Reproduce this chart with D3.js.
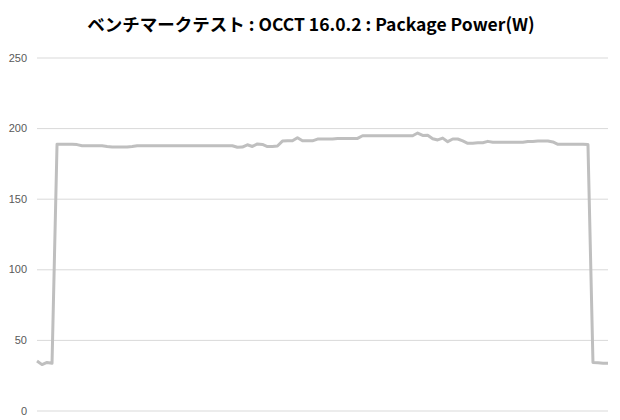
<!DOCTYPE html>
<html>
<head>
<meta charset="utf-8">
<script src="https://cdn.jsdelivr.net/npm/d3@7"></script>
<style>
  body { margin: 0; background: #fff; }
  svg { display: block; }
</style>
</head>
<body>
<div id="chart"></div>
<script>
// chart data
var chartTitle = "ベンチマークテスト : OCCT 16.0.2 : Package Power(W)";
var yTicks = [0, 50, 100, 150, 200, 250];

// package power (W), one value per sample
var power = [
    35, 32.5, 34, 33.5,
    188.5, 188.5, 188.5, 188.5, 188.3, 187.5, 187.5, 187.5, 187.5, 187.5,
    187, 186.6, 186.6, 186.6, 186.6, 187,
    187.5, 187.5, 187.5, 187.5, 187.5, 187.5, 187.5, 187.5, 187.5, 187.5,
    187.5, 187.5, 187.5, 187.5, 187.5, 187.5, 187.5, 187.5, 187.5, 187.5,
    186.4, 186.6, 188.2, 187, 188.8, 188.4, 186.9, 186.9, 187.3,
    190.8, 191, 191, 193.2, 191, 191, 191,
    192.2, 192.3, 192.3, 192.3, 192.7, 192.7, 192.7, 192.7, 192.7,
    194.6, 194.6, 194.6, 194.6, 194.6, 194.6, 194.6, 194.6, 194.6, 194.6, 194.6,
    196.5, 194.8, 195, 192.5, 191.6, 192.9, 190.4, 192.3, 192.3, 191,
    189.2, 189.2, 189.6, 189.6, 190.6, 190,
    190, 190, 190, 190, 190, 190,
    190.5, 190.5, 190.8, 190.8, 190.8, 190.2,
    188.5, 188.5, 188.5, 188.5, 188.5, 188.5, 188.3,
    34, 33.8, 33.5, 33.5
];

var margin = {top: 57.5, right: 12, bottom: 9.5, left: 37};
var width = 620 - margin.left - margin.right,
    height = 420 - margin.top - margin.bottom;

var svg = d3.select("#chart").append("svg")
    .attr("width", 620)
    .attr("height", 420);

svg.append("text")
    .attr("x", 311)
    .attr("y", 31)
    .attr("text-anchor", "middle")
    .style("font-family", "'Noto Sans CJK JP', 'Noto Sans', sans-serif")
    .style("font-weight", "bold")
    .style("font-size", "17.5px")
    .style("fill", "#000")
    .text(chartTitle);

var g = svg.append("g")
    .attr("transform", "translate(" + margin.left + "," + margin.top + ")");

var x = d3.scaleLinear()
    .domain([0, power.length - 1])
    .range([0, width]);

var y = d3.scaleLinear()
    .domain([0, 250])
    .range([height, 0]);

// gridlines + labels
var yAxis = d3.axisLeft(y)
    .tickValues(yTicks)
    .tickSize(-width)
    .tickPadding(10)
    .tickFormat(d3.format("d"));

var ya = g.append("g")
    .attr("class", "y-axis")
    .call(yAxis);

ya.select(".domain").remove();
ya.selectAll(".tick line")
    .attr("stroke", "#d9d9d9")
    .attr("stroke-width", 1);
ya.selectAll(".tick text")
    .attr("fill", "#595959")
    .style("font-family", "'Liberation Sans', Arial, sans-serif")
    .style("font-size", "11px");

var line = d3.line()
    .x(function(d, i) { return x(i); })
    .y(function(d) { return y(d); });

g.append("path")
    .datum(power)
    .attr("fill", "none")
    .attr("stroke", "#bfbfbf")
    .attr("stroke-width", 3)
    .attr("stroke-linejoin", "round")
    .attr("d", line);
</script>
</body>
</html>
